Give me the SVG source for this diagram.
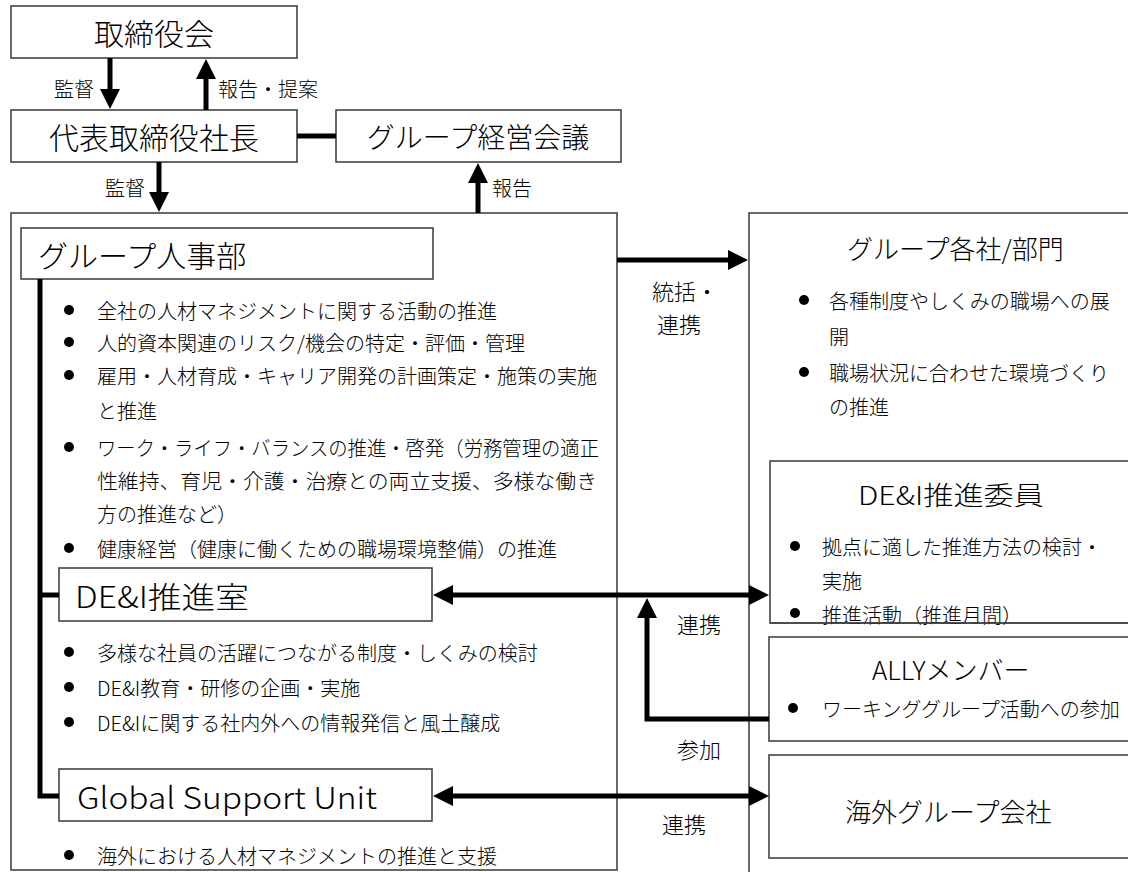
<svg xmlns="http://www.w3.org/2000/svg" width="1128" height="872" viewBox="0 0 1128 872">
<style>
text{font-family:"Noto Sans CJK JP","Noto Sans CJK SC",sans-serif;font-weight:300;fill:#000;dominant-baseline:central}
.box{fill:#fff;stroke:#444;stroke-width:1.6}
.conn{fill:none;stroke:#000;stroke-width:5}
.t30{font-size:30px}
.t28{font-size:28px}
.t26{font-size:26px}
.t22{font-size:22px}
.t20{font-size:20px}
.mid{text-anchor:middle}
.dot{fill:#000}
</style>
<defs>
<marker id="ah" viewBox="0 0 20 20" refX="10" refY="10" markerWidth="20" markerHeight="20" markerUnits="userSpaceOnUse" orient="auto-start-reverse">
<path d="M0,0 L20,10 L0,20 z" fill="#000"/>
</marker>
</defs>

<g id="container-hr">
<rect class="box" x="11" y="213" width="606" height="657"/>
</g>
<g id="container-group">
<rect class="box" x="749" y="213" width="400" height="670"/>
</g>

<g id="board">
<rect class="box" x="11" y="6" width="286" height="52"/>
<text class="t30 mid" x="154" y="32">取締役会</text>
</g>
<g id="president">
<rect class="box" x="11" y="110" width="286" height="52"/>
<text class="t30 mid" x="154" y="136">代表取締役社長</text>
</g>
<g id="mgmt-meeting">
<rect class="box" x="336" y="110" width="285" height="52"/>
<text class="t28 mid" x="478" y="136">グループ経営会議</text>
</g>

<g id="hr-dept">
<rect class="box" x="21" y="228" width="412" height="51"/>
<text class="t30" x="38" y="254">グループ人事部</text>
<g class="t20">
<circle class="dot" cx="69" cy="310" r="5"/><text x="97" y="310">全社の人材マネジメントに関する活動の推進</text>
<circle class="dot" cx="69" cy="342" r="5"/><text x="97" y="342">人的資本関連のリスク/機会の特定・評価・管理</text>
<circle class="dot" cx="69" cy="375" r="5"/><text x="97" y="375">雇用・人材育成・キャリア開発の計画策定・施策の実施</text>
<text x="97" y="410">と推進</text>
<circle class="dot" cx="69" cy="447" r="5"/><text x="97" y="447" textLength="502" lengthAdjust="spacingAndGlyphs">ワーク・ライフ・バランスの推進・啓発（労務管理の適正</text>
<text x="97" y="480" textLength="500" lengthAdjust="spacingAndGlyphs">性維持、育児・介護・治療との両立支援、多様な働き</text>
<text x="97" y="513">方の推進など）</text>
<circle class="dot" cx="69" cy="548" r="5"/><text x="97" y="548">健康経営（健康に働くための職場環境整備）の推進</text>
</g>
</g>

<g id="dei-office">
<rect class="box" x="59" y="568" width="373" height="53"/>
<text class="t30" x="75" y="595" textLength="174" lengthAdjust="spacingAndGlyphs">DE&amp;I推進室</text>
<g class="t20">
<circle class="dot" cx="69" cy="652" r="5"/><text x="97" y="652">多様な社員の活躍につながる制度・しくみの検討</text>
<circle class="dot" cx="69" cy="687" r="5"/><text x="97" y="687">DE&amp;I教育・研修の企画・実施</text>
<circle class="dot" cx="69" cy="722" r="5"/><text x="97" y="722">DE&amp;Iに関する社内外への情報発信と風土醸成</text>
</g>
</g>

<g id="gsu">
<rect class="box" x="59" y="769" width="373" height="52"/>
<text class="t30" x="77" y="796" textLength="300" lengthAdjust="spacingAndGlyphs">Global Support Unit</text>
<circle class="dot" cx="69" cy="855" r="5"/><text class="t20" x="97" y="855">海外における人材マネジメントの推進と支援</text>
</g>

<g id="group-companies">
<text class="t26" x="847" y="247">グループ各社/部門</text>
<g class="t20">
<circle class="dot" cx="804" cy="300" r="5"/><text x="829" y="300">各種制度やしくみの職場への展</text>
<text x="829" y="336">開</text>
<circle class="dot" cx="804" cy="372" r="5"/><text x="829" y="372">職場状況に合わせた環境づくり</text>
<text x="829" y="406">の推進</text>
</g>
</g>

<g id="dei-committee">
<rect class="box" x="770" y="461" width="400" height="162"/>
<text class="t26" x="858" y="493" textLength="186" lengthAdjust="spacingAndGlyphs">DE&amp;I推進委員</text>
<g class="t20">
<circle class="dot" cx="795" cy="546" r="5"/><text x="822" y="546">拠点に適した推進方法の検討・</text>
<text x="822" y="580">実施</text>
<circle class="dot" cx="795" cy="613" r="5"/><text x="822" y="614">推進活動（推進月間）</text>
</g>
<line x1="770" y1="623" x2="1128" y2="623" stroke="#444" stroke-width="1.6"/>
</g>

<g id="ally">
<rect class="box" x="769" y="637" width="400" height="104"/>
<text class="t26" x="872" y="668">ALLYメンバー</text>
<circle class="dot" cx="793" cy="708" r="5"/><text class="t20" x="822" y="708">ワーキンググループ活動への参加</text>
</g>

<g id="overseas">
<rect class="box" x="769" y="755" width="400" height="103"/>
<text class="t26" x="845" y="810">海外グループ会社</text>
</g>

<g id="connectors">
<line class="conn" x1="110" y1="58" x2="110" y2="99" marker-end="url(#ah)"/>
<line class="conn" x1="206" y1="110" x2="206" y2="69" marker-end="url(#ah)"/>
<line class="conn" x1="297" y1="136" x2="336" y2="136"/>
<line class="conn" x1="159" y1="162" x2="159" y2="202" marker-end="url(#ah)"/>
<line class="conn" x1="478" y1="213" x2="478" y2="173" marker-end="url(#ah)"/>
<line class="conn" x1="617" y1="260" x2="738" y2="260" marker-end="url(#ah)"/>
<line class="conn" x1="443" y1="595" x2="759" y2="595" marker-start="url(#ah)" marker-end="url(#ah)"/>
<path class="conn" d="M769,719 H647 V608" marker-end="url(#ah)"/>
<line class="conn" x1="443" y1="796" x2="759" y2="796" marker-start="url(#ah)" marker-end="url(#ah)"/>
<path class="conn" d="M40,279 V796 H59 M40,595 H59"/>
<g class="t20">
<text x="54" y="88">監督</text>
<text x="218" y="88">報告・提案</text>
<text x="105" y="187">監督</text>
<text x="492" y="187">報告</text>
</g>
<g class="t22">
<text x="652" y="290">統括・</text>
<text x="657" y="323">連携</text>
<text x="677" y="623">連携</text>
<text x="677" y="748">参加</text>
<text x="662" y="823">連携</text>
</g>
</g>
</svg>
